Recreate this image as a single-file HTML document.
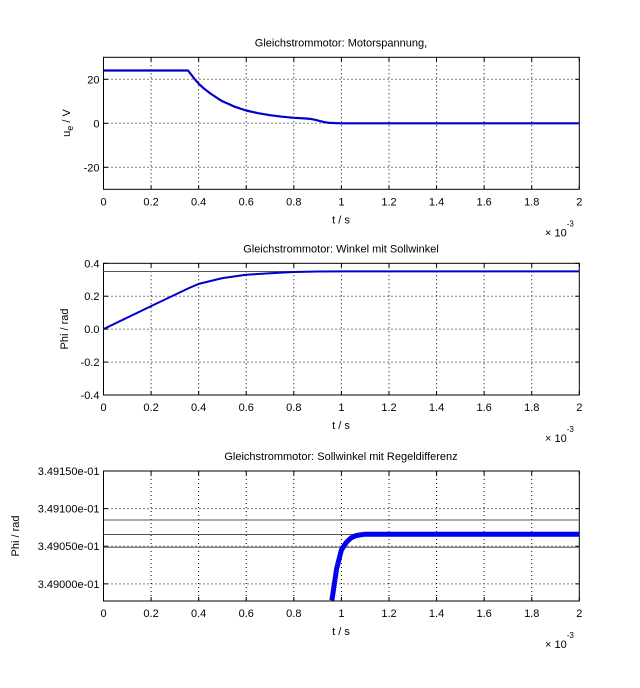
<!DOCTYPE html>
<html><head><meta charset="utf-8"><style>
body{margin:0;background:#fff}
svg{display:block;font-family:"Liberation Sans",Arial,sans-serif;font-size:11px}
</style></head><body>
<svg id="fig" width="640" height="688" viewBox="0 0 640 688"></svg>
<script>
const tCats=[0,0.2,0.355,0.37,0.38,0.4,0.42,0.45,0.48,0.5,0.53,0.55,0.58,0.6,0.65,0.7,0.75,0.8,0.85,0.87,0.89,0.91,0.93,0.95,1.0,1.2,1.4,1.6,1.8,2.0];
const ueVals=[24,24,24,22,20.5,18,16,13.5,11.3,10,8.6,7.6,6.5,5.8,4.6,3.7,3.0,2.5,2.2,2.0,1.6,1.0,0.5,0.2,0,0,0,0,0,0];
const phiT=[0,0.2,0.36,0.4,0.5,0.6,0.7,0.8,0.9,1.0,1.5,2.0];
const phiVals=[0,0.14,0.25,0.275,0.31,0.33,0.34,0.347,0.35,0.351,0.351,0.351];
const sollPhi=0.35;
const zoomT=[0.96,0.98,1.0,1.02,1.04,1.06,1.08,1.1,1.2,1.5,2.0];
const zoomVals=[3.48978,3.49020,3.49045,3.49055,3.49061,3.49064,3.49065,3.49066,3.49066,3.49066,3.49066];
const zoomRefs=[3.490849,3.490656,3.490487];
const xTicks=[0,0.2,0.4,0.6,0.8,1,1.2,1.4,1.6,1.8,2];
const ueTicks=[-20,0,20];
const phiTicks=[-0.4,-0.2,0,0.2,0.4];
const zTicks=[3.49000,3.49050,3.49100,3.49150];

const svg=document.getElementById('fig');
const NS='http://www.w3.org/2000/svg';
function mk(tag,at,parent){const e=document.createElementNS(NS,tag);for(const k in at)e.setAttribute(k,at[k]);(parent||svg).appendChild(e);return e;}
const L=103.5,R=579.3;
const sx=t=>L+(t/2)*(R-L);

function axes(name,top,bot,ymin,ymax,yt,fmt,title){
  const g=mk('g',{});
  
  
  const sy=v=>bot-(v-ymin)/(ymax-ymin)*(bot-top);
  xTicks.forEach(t=>{const x=sx(t);
    if(t>0&&t<2){const l=mk('line',{x1:x,x2:x,y1:top,y2:bot,stroke:'#000','stroke-dasharray':'1,3','stroke-width':1},g);}
    mk('line',{x1:x,x2:x,y1:bot,y2:bot-4,stroke:'#000'},g);mk('line',{x1:x,x2:x,y1:top,y2:top+4,stroke:'#000'},g);
    const tx=mk('text',{x:x,y:bot+16,'text-anchor':'middle'},g);tx.textContent=String(t);
    });
  yt.forEach(v=>{const y=sy(v);
    if(y>top+1&&y<bot-1){const l=mk('line',{x1:L,x2:R,y1:y,y2:y,stroke:'#000','stroke-dasharray':'1,3'},g);}
    mk('line',{x1:L,x2:L+4,y1:y,y2:y,stroke:'#000'},g);mk('line',{x1:R,x2:R-4,y1:y,y2:y,stroke:'#000'},g);
    const tx=mk('text',{x:L-4,y:y+4,'text-anchor':'end'},g);tx.textContent=fmt(v);
    });
  mk('rect',{x:L,y:top,width:R-L,height:bot-top,fill:'none',stroke:'#000'},g);
  const ti=mk('text',{x:341,y:top-11,'text-anchor':'middle'},g);ti.textContent=title;
  
  const xl=mk('text',{x:341,y:bot+34,'text-anchor':'middle'},g);xl.textContent='t / s';
  
  const xs=mk('text',{x:545,y:bot+47},g);xs.innerHTML='× 10<tspan dy="-10" font-size="8">-3</tspan>';
  
  return {g,sy};
}
function line(g,xs,ys,sy,w,col,name){
  const d=xs.map((t,i)=>(i?'L':'M')+sx(t).toFixed(1)+','+sy(ys[i]).toFixed(1)).join('');
  const p=mk('path',{d:d,fill:'none',stroke:col,'stroke-width':w,'stroke-linejoin':'round'},g);
  return p;
}
const a1=axes('motor-voltage-plot',57.3,189.3,-30,30,ueTicks,v=>String(v),'Gleichstrommotor: Motorspannung,');
line(a1.g,tCats,ueVals,a1.sy,2.2,'#0000cc','voltage-line');
const y1=mk('text',{transform:'translate(70,123) rotate(-90)','text-anchor':'middle'},a1.g);
y1.innerHTML='u<tspan dy="3" font-size="9">e</tspan><tspan dy="-3"> / V</tspan>';


const a2=axes('angle-plot',263.3,395,-0.4,0.4,phiTicks,v=>v.toFixed(1),'Gleichstrommotor: Winkel mit Sollwinkel');
line(a2.g,[0,2],[sollPhi,sollPhi],a2.sy,1,'#555','setpoint-line');
line(a2.g,phiT,phiVals,a2.sy,2,'#0000cc','angle-line');
const y2=mk('text',{transform:'translate(68,329) rotate(-90)','text-anchor':'middle'},a2.g);y2.textContent='Phi / rad';


const zmin=3.489772,zmax=3.49150;
const a3=axes('setpoint-zoom-plot',471,601,zmin,zmax,zTicks,v=>v.toFixed(5)+'e-01','Gleichstrommotor: Sollwinkel mit Regeldifferenz');
zoomRefs.forEach(v=>line(a3.g,[0,2],[v,v],a3.sy,1,'#555','reference-line'));
line(a3.g,zoomT,zoomVals,a3.sy,5,'#0000ee','angle-zoom-line');
const y3=mk('text',{transform:'translate(19,536) rotate(-90)','text-anchor':'middle'},a3.g);y3.textContent='Phi / rad';

</script>
</body></html>
